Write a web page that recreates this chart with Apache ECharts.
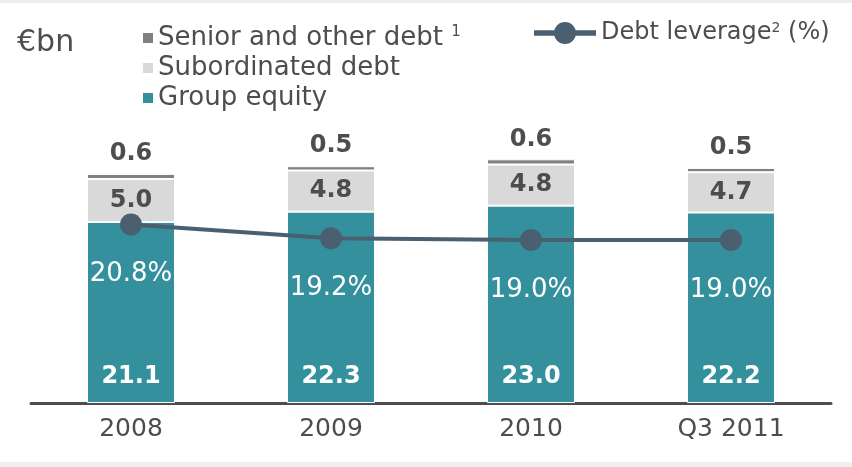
<!DOCTYPE html>
<html><head><meta charset="utf-8">
<script src="https://cdn.jsdelivr.net/npm/echarts@6/dist/echarts.min.js"></script>
<style>html,body{margin:0;padding:0;background:#fff}#c{width:852px;height:467px}</style>
</head><body><div id="c"></div>
<script>
const categories = ['2008', '2009', '2010', 'Q3 2011'];
const seniorDebt = [0.6, 0.5, 0.6, 0.5];
const subordinatedDebt = [5.0, 4.8, 4.8, 4.7];
const groupEquity = [21.1, 22.3, 23.0, 22.2];
const debtLeverage = [20.8, 19.2, 19.0, 19.0];

const FONT = 'DejaVu Sans';
const TXT = '#4D4D4F';
const LINE_ICON = 'path://M0,8.3H20.3V13.7H0Z M41.7,8.3H62V13.7H41.7Z M20,11A11,11 0 1,1 42,11A11,11 0 1,1 20,11Z';
const chart = echarts.init(document.getElementById('c'), null, {renderer: 'canvas'});
chart.setOption({
  animation: false,
  backgroundColor: '#fff',
  textStyle: {fontFamily: FONT},
  graphic: [
    {type: 'rect', shape: {x: 0, y: 0, width: 852, height: 3}, style: {fill: '#EEEEEE'}, silent: true},
    {type: 'rect', shape: {x: 0, y: 462, width: 852, height: 5}, style: {fill: '#EEEEEE'}, silent: true},
    {type: 'text', left: 17, top: 28, style: {text: '€bn', fontSize: 30, fontFamily: FONT, fill: TXT}}
  ],
  legend: [
    {
      data: ['Senior and other debt', 'Subordinated debt', 'Group equity'],
      orient: 'vertical', left: 136, top: 20, itemWidth: 12, itemHeight: 12, itemGap: 4,
      icon: 'rect',
      formatter: n => n === 'Senior and other debt' ? '{t|' + n + ' }{s|1}' : '{t|' + n + '}',
      textStyle: {color: TXT, fontFamily: FONT, fontSize: 26, lineHeight: 26, padding: [0, 0, 0, -1],
        rich: {t: {fontSize: 26, fontFamily: FONT, color: TXT, lineHeight: 26},
               s: {fontSize: 15, fontFamily: FONT, color: TXT, verticalAlign: 'top', lineHeight: 15}}}
    },
    {
      data: [{name: 'Debt leverage', icon: LINE_ICON}],
      left: 529, top: 16, itemWidth: 62, itemHeight: 22, itemGap: 0,
      formatter: () => '{t|Debt leverage}{s|2}{t| (%)}',
      textStyle: {color: TXT, fontFamily: FONT, fontSize: 24, lineHeight: 24,
        rich: {t: {fontSize: 24, fontFamily: FONT, color: TXT, lineHeight: 24},
               s: {fontSize: 14, fontFamily: FONT, color: TXT, verticalAlign: 'top', lineHeight: 14}}}
    }
  ],
  grid: {left: 31, right: 21, top: 145.6, bottom: 64, containLabel: false},
  xAxis: {
    type: 'category', data: categories,
    axisLine: {lineStyle: {color: TXT, width: 3}},
    axisTick: {show: false},
    axisLabel: {color: TXT, fontSize: 25, fontFamily: FONT, margin: 14}
  },
  yAxis: {type: 'value', min: 0, max: 30, show: false, splitLine: {show: false}},
  series: [
    {
      name: 'Group equity', type: 'bar', stack: 'a', data: groupEquity, barWidth: 88,
      itemStyle: {color: '#35909D', borderColor: '#fff', borderWidth: 1},
      label: {show: true, position: 'insideBottom', distance: 14, color: '#fff', fontSize: 24,
        fontWeight: 'bold', fontFamily: FONT, formatter: p => p.value.toFixed(1)}
    },
    {
      name: 'Subordinated debt', type: 'bar', stack: 'a', data: subordinatedDebt, barWidth: 88,
      itemStyle: {color: '#D9D9D9', borderColor: '#fff', borderWidth: 1},
      label: {show: true, position: 'inside', color: TXT, fontSize: 24,
        fontWeight: 'bold', fontFamily: FONT, formatter: p => p.value.toFixed(1)}
    },
    {
      name: 'Senior and other debt', type: 'bar', stack: 'a', data: seniorDebt, barWidth: 88,
      itemStyle: {color: '#808080', borderColor: '#fff', borderWidth: 1},
      label: {show: true, position: 'top', distance: 8, color: TXT, fontSize: 24,
        fontWeight: 'bold', fontFamily: FONT, formatter: p => p.value.toFixed(1)}
    },
    {
      name: 'Debt leverage', type: 'line', data: debtLeverage, z: 5,
      symbol: 'circle', symbolSize: 22,
      lineStyle: {color: '#4A5F6F', width: 4},
      itemStyle: {color: '#4A5F6F'},
      label: {show: true, position: 'bottom', distance: 26, color: '#fff', fontSize: 26,
        fontFamily: FONT, formatter: p => p.value.toFixed(1) + '%'}
    }
  ]
});
</script></body></html>
